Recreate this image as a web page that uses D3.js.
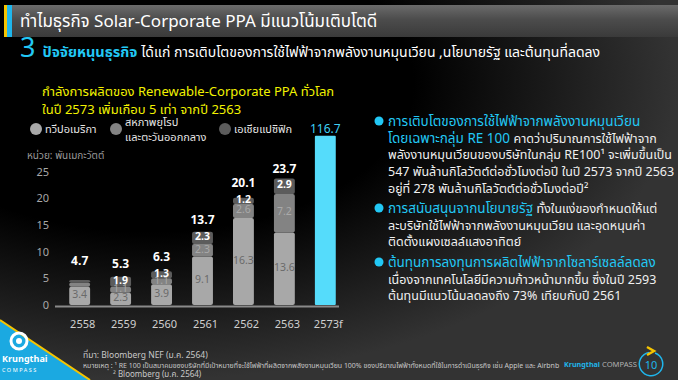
<!DOCTYPE html>
<html lang="th">
<head>
<meta charset="UTF-8">
<title>Solar-Corporate PPA</title>
<script src="https://cdn.jsdelivr.net/npm/d3@7"></script>
<style>
    body { margin: 0; background: #000; }
    svg { display: block; }
    text { font-family: "Noto Sans Thai", "Noto Sans", "DejaVu Sans", sans-serif; }
</style>
</head>
<body>
<div id="chart"></div>
<script>
    // data
    const years = ["2558", "2559", "2560", "2561", "2562", "2563", "2573f"];
    const america = [3.4, 2.3, 3.9, 9.1, 16.3, 13.6];
    const europe  = [0.8, 1.1, 1.1, 2.3, 2.6, 7.2];
    const apac    = [0.5, 1.9, 1.3, 2.3, 1.2, 2.9];
    const totals  = [4.7, 5.3, 6.3, 13.7, 20.1, 23.7, 116.7];
    const seriesNames = ["ทวีปอเมริกา", "สหภาพยุโรป|และตะวันออกกลาง", "เอเชียแปซิฟิก"];
    const yTicks = [0, 5, 10, 15, 20, 25];

    const W = 678, H = 380;
    const svg = d3.select("#chart").append("svg").attr("width", W).attr("height", H);

    // shrink a text's font until it fits a given width
    function fitWidth(sel, width) {
        const node = sel.node();
        const fs = +sel.attr("font-size");
        const len = node.getComputedTextLength();
        if (len > width) sel.attr("font-size", (fs * width / len).toFixed(2));
        return sel;
    }

    const defs = svg.append("defs");
    const bg = defs.append("radialGradient").attr("id", "bg")
        .attr("cx", "22%").attr("cy", "22%").attr("r", "78%");
    bg.append("stop").attr("offset", "0%").attr("stop-color", "#000");
    bg.append("stop").attr("offset", "50%").attr("stop-color", "#000");
    bg.append("stop").attr("offset", "100%").attr("stop-color", "#333");
    const hd = defs.append("linearGradient").attr("id", "hd").attr("x1", 0).attr("x2", 0).attr("y1", 0).attr("y2", 1);
    hd.append("stop").attr("offset", "0%").attr("stop-color", "#6b6b6b");
    hd.append("stop").attr("offset", "45%").attr("stop-color", "#4c4c4c");
    hd.append("stop").attr("offset", "100%").attr("stop-color", "#3a3a3a");

    svg.append("rect").attr("width", W).attr("height", H).attr("fill", "url(#bg)");

    // header
    svg.append("rect").attr("x", 4).attr("y", 5).attr("width", W - 4).attr("height", 32).attr("fill", "url(#hd)");
    svg.append("rect").attr("x", 4).attr("y", 5).attr("width", 3).attr("height", 32).attr("fill", "#f5c400");
    svg.append("rect").attr("x", 7).attr("y", 5).attr("width", 5).attr("height", 32).attr("fill", "#1fb6ec");
    svg.append("text").attr("x", 20).attr("y", 27).attr("fill", "#fff").attr("font-size", 17)
        .text("ทำไมธุรกิจ Solar-Corporate PPA มีแนวโน้มเติบโตดี");

    const sub = svg.append("text").attr("x", 20).attr("y", 57).attr("fill", "#fff");
    sub.append("tspan").attr("fill", "#22c8f5").attr("font-size", 27).text("3 ");
    sub.append("tspan").attr("fill", "#22c8f5").attr("font-size", 14.5).attr("font-weight", "bold").text("ปัจจัยหนุนธุรกิจ ");
    sub.append("tspan").attr("font-size", 14).text("ได้แก่ การเติบโตของการใช้ไฟฟ้าจากพลังงานหมุนเวียน ,นโยบายรัฐ และต้นทุนที่ลดลง");

    // chart title
    svg.append("text").attr("x", 42).attr("y", 96).attr("fill", "#f2f200").attr("font-size", 13)
        .text("กำลังการผลิตของ Renewable-Corporate PPA ทั่วโลก");
    svg.append("text").attr("x", 42).attr("y", 114).attr("fill", "#f2f200").attr("font-size", 13)
        .text("ในปี 2573 เพิ่มเกือบ 5 เท่า จากปี 2563");

    // scales
    const x = d3.scaleBand().domain(years).range([59, 346]).paddingInner(0.49).paddingOuter(0.25);
    const y = d3.scaleLinear().domain([0, 25]).range([305, 171.5]);
    const yClip = 31.7;
    const colors = ["#a8a8a8", "#838383", "#5c5c5c"];
    const labelColors = ["#6a6a6a", "#a9a9a9", "#ffffff"];

    // legend
    const legendX = [36, 116, 225];
    seriesNames.forEach((name, i) => {
        svg.append("circle").attr("cx", legendX[i]).attr("cy", 129).attr("r", 6).attr("fill", colors[i]);
        const lines = name.split("|");
        lines.forEach((ln, j) => {
            svg.append("text").attr("x", legendX[i] + 9).attr("y", lines.length > 1 ? 126 + j * 15 : 133)
                .attr("fill", "#e6e6e6").attr("font-size", 11).text(ln);
        });
    });

    svg.append("text").attr("x", 27).attr("y", 159).attr("fill", "#9a9a9a").attr("font-size", 10)
        .text("หน่วย: พันเมกะวัตต์");

    // y axis
    svg.append("g").attr("transform", "translate(49,0)")
        .call(d3.axisLeft(y).tickValues(yTicks).tickSize(0).tickPadding(0))
        .call(g => g.select(".domain").remove())
        .call(g => g.selectAll("text").attr("fill", "#a8a8a8").attr("font-size", 11)
            .style("font-family", "'Noto Sans', sans-serif"));

    // stacked bars
    const rows = america.map((a, i) => ({ year: years[i], total: totals[i], vals: [a, europe[i], apac[i]] }));
    const segs = [];
    rows.forEach(r => {
        let base = 0;
        r.vals.forEach((v, k) => {
            segs.push({ year: r.year, total: r.total, k, v, y0: base, y1: base + v });
            base += v;
        });
    });

    svg.append("g").selectAll("rect").data(segs).join("rect")
        .attr("x", d => x(d.year))
        .attr("width", x.bandwidth())
        .attr("y", d => y(d.y1))
        .attr("height", d => y(d.y0) - y(d.y1))
        .attr("rx", 2)
        .attr("fill", d => colors[d.k]);

    // label centre of a segment; thin top segments lift their label above the bar
    const segMid = d => {
        const h = y(d.y0) - y(d.y1);
        if (d.k === 2 && h < 5) return y(d.y1) - 3;
        return (y(d.y0) + y(d.y1)) / 2 - 1.5;
    };

    svg.append("g").selectAll("text").data(segs.filter(d => d.v >= 1)).join("text")
        .attr("x", d => x(d.year) + x.bandwidth() / 2)
        .attr("y", segMid)
        .attr("dy", "0.36em")
        .attr("text-anchor", "middle")
        .attr("font-size", 10.5)
        .attr("font-weight", d => d.k === 2 ? "bold" : "normal")
        .attr("fill", d => labelColors[d.k])
        .text(d => d.v.toFixed(1));

    // forecast bar (truncated at the top of the plot)
    const last = years[years.length - 1];
    svg.append("rect")
        .attr("x", x(last)).attr("width", x.bandwidth())
        .attr("y", y(Math.min(totals[6], yClip)))
        .attr("height", y(0) - y(Math.min(totals[6], yClip)))
        .attr("rx", 1)
        .attr("fill", "#55dcfb");

    // totals
    const topSeg = segs.filter(d => d.k === 2);
    svg.append("g").selectAll("text").data(totals).join("text")
        .attr("x", (d, i) => x(years[i]) + x.bandwidth() / 2)
        .attr("y", (d, i) => {
            if (d > yClip) return y(yClip) - 3;
            return Math.min(y(d) - 5, segMid(topSeg[i]) - 12);
        })
        .attr("text-anchor", "middle")
        .attr("font-size", 12)
        .attr("font-weight", (d, i) => i === 6 ? "normal" : "bold")
        .attr("fill", (d, i) => i === 6 ? "#3fd0f5" : "#ffffff")
        .text(d => d.toFixed(1));

    // x axis
    svg.append("line").attr("x1", 55).attr("x2", 339).attr("y1", y(0) + 1.5).attr("y2", y(0) + 1.5)
        .attr("stroke", "#8a8a8a").attr("stroke-width", 2);
    svg.append("g").attr("transform", `translate(3,${y(0) + 1})`)
        .call(d3.axisBottom(x).tickSize(0).tickPadding(14))
        .call(g => g.select(".domain").remove())
        .call(g => g.selectAll("text").attr("fill", "#d0d0d0").attr("font-size", 11)
            .style("font-family", "'Noto Sans', sans-serif"));

    // right-hand bullets
    const bullets = [
        { y: 126, lines: [
            [["การเติบโตของการใช้ไฟฟ้าจากพลังงานหมุนเวียน", true]],
            [["โดยเฉพาะกลุ่ม RE 100 ", true], ["คาดว่าปริมาณการใช้ไฟฟ้าจาก", false]],
            [["พลังงานหมุนเวียนของบริษัทในกลุ่ม RE100¹ จะเพิ่มขึ้นเป็น", false]],
            [["547 พันล้านกิโลวัตต์ต่อชั่วโมงต่อปี ในปี 2573 จากปี 2563", false]],
            [["อยู่ที่ 278 พันล้านกิโลวัตต์ต่อชั่วโมงต่อปี²", false]]
        ]},
        { y: 213, lines: [
            [["การสนับสนุนจากนโยบายรัฐ ", true], ["ทั้งในแง่ของกำหนดให้แต่", false]],
            [["ละบริษัทใช้ไฟฟ้าจากพลังงานหมุนเวียน และอุดหนุนค่า", false]],
            [["ติดตั้งแผงเซลล์แสงอาทิตย์", false]]
        ]},
        { y: 267, lines: [
            [["ต้นทุนการลงทุนการผลิตไฟฟ้าจากโซลาร์เซลล์ลดลง", true]],
            [["เนื่องจากเทคโนโลยีมีความก้าวหน้ามากขึ้น ซึ่งในปี 2593", false]],
            [["ต้นทุนมีแนวโน้มลดลงถึง 73% เทียบกับปี 2561", false]]
        ]}
    ];
    bullets.forEach(b => {
        svg.append("circle").attr("cx", 379).attr("cy", b.y - 5).attr("r", 4.5).attr("fill", "#22c8f5");
        b.lines.forEach((ln, j) => {
            const t = svg.append("text").attr("x", 388).attr("y", b.y + j * 16.7);
            ln.forEach(([s, hi]) => t.append("tspan")
                .attr("fill", hi ? "#22c8f5" : "#f0f0f0")
                .attr("font-size", hi ? 13.5 : 12.5)
                .text(s));
        });
    });

    // footer: logo triangle
    svg.append("path").attr("d", `M0,320 L90,${H} L0,${H} Z`).attr("fill", "#1ba9e1");
    svg.append("path").attr("d", `M0,320 L90,${H}`).attr("stroke", "#f5c400").attr("stroke-width", 2);
    svg.append("circle").attr("cx", 19).attr("cy", 341).attr("r", 8).attr("fill", "none").attr("stroke", "#fff").attr("stroke-width", 3);
    svg.append("circle").attr("cx", 19).attr("cy", 341).attr("r", 3).attr("fill", "#fff");
    svg.append("text").attr("x", 2).attr("y", 362).attr("fill", "#fff").attr("font-size", 9).attr("font-weight", "bold").text("Krungthai");
    svg.append("text").attr("x", 2).attr("y", 372).attr("fill", "#fff").attr("font-size", 5.5).attr("letter-spacing", 1.5).text("COMPASS");

    // sources
    svg.append("text").attr("x", 83).attr("y", 358).attr("fill", "#c8c8c8").attr("font-size", 8.5)
        .text("ที่มา: Bloomberg NEF (ม.ค. 2564)");
    fitWidth(svg.append("text").attr("x", 83).attr("y", 368).attr("fill", "#c8c8c8").attr("font-size", 7.4)
        .text("หมายเหตุ : ¹ RE 100 เป็นสมาคมของบริษัทที่มีเป้าหมายที่จะใช้ไฟฟ้าที่ผลิตจากพลังงานหมุนเวียน 100% ของปริมาณไฟฟ้าทั้งหมดที่ใช้ในการดำเนินธุรกิจ เช่น Apple และ Airbnb"), 476);
    svg.append("text").attr("x", 113).attr("y", 377).attr("fill", "#c8c8c8").attr("font-size", 8)
        .text("² Bloomberg (ม.ค. 2564)");

    // page badge
    fitWidth(svg.append("text").attr("x", 564).attr("y", 367).attr("font-size", 8.5)
        .attr("fill", "#1fb6ec").attr("font-weight", "bold").text("Krungthai"), 36);
    fitWidth(svg.append("text").attr("x", 602).attr("y", 367).attr("font-size", 8.5)
        .attr("fill", "#b0b0b0").text("COMPASS"), 35);
    svg.append("path")
        .attr("d", d3.arc()({ innerRadius: 11, outerRadius: 12.5, startAngle: 0.35, endAngle: 2 * Math.PI - 0.15 }))
        .attr("transform", "translate(651,364)").attr("fill", "#1fb6ec");
    svg.append("path").attr("d", "M647,347 L654,351 L647,355").attr("fill", "none")
        .attr("stroke", "#f5c400").attr("stroke-width", 2.5);
    svg.append("text").attr("x", 651).attr("y", 368.5).attr("text-anchor", "middle")
        .attr("fill", "#1fb6ec").attr("font-size", 11).text("10");
</script>
</body>
</html>
